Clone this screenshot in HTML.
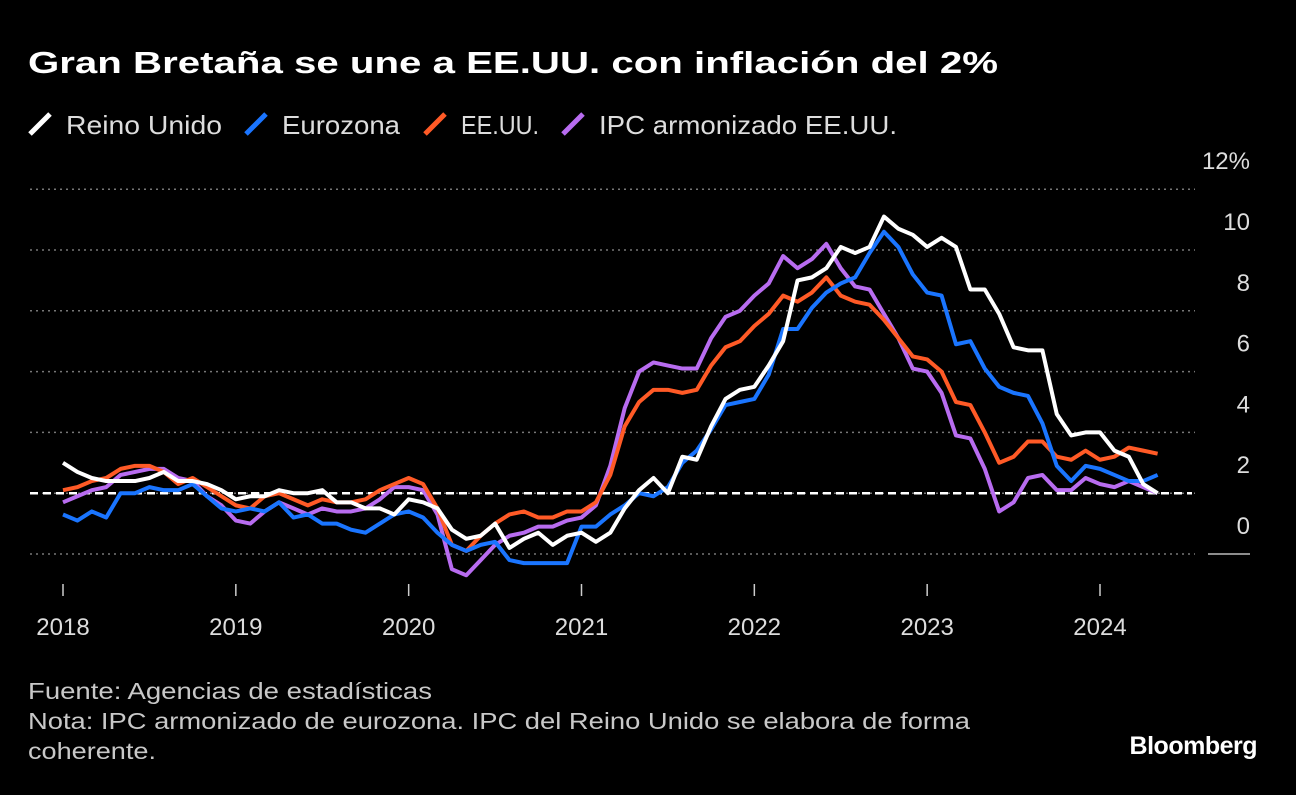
<!DOCTYPE html>
<html><head><meta charset="utf-8"><style>
body{margin:0;background:#000;width:1296px;height:790px;overflow:hidden;font-family:"Liberation Sans",sans-serif;color:#fff}
svg text{font-family:"Liberation Sans",sans-serif}
</style></head><body>
<svg width="1296" height="790">
<text x="28" y="73" font-size="31" font-weight="bold" fill="#fff" textLength="970" lengthAdjust="spacingAndGlyphs">Gran Bretaña se une a EE.UU. con inflación del 2%</text>
<g id="legend"></g>
<g id="grid"></g>
<g id="lines"></g>
<g id="xaxis"></g>
<text x="28" y="699" font-size="23" fill="#c8c8c8" textLength="404" lengthAdjust="spacingAndGlyphs">Fuente: Agencias de estadísticas</text>
<text x="28" y="729" font-size="23" fill="#c8c8c8" textLength="942" lengthAdjust="spacingAndGlyphs">Nota: IPC armonizado de eurozona. IPC del Reino Unido se elabora de forma</text>
<text x="28" y="759" font-size="23" fill="#c8c8c8" textLength="128" lengthAdjust="spacingAndGlyphs">coherente.</text>
<text x="1257" y="754" font-size="25" font-weight="bold" fill="#fff" text-anchor="end" letter-spacing="-0.5">Bloomberg</text>
</svg>
<script>
const years=["2018","2019","2020","2021","2022","2023","2024"];
const yTicks=[0,2,4,6,8,10,12];
const seriesNames=["Reino Unido","Eurozona","EE.UU.","IPC armonizado EE.UU."];
const uk=[3.0,2.7,2.5,2.4,2.4,2.4,2.5,2.7,2.4,2.4,2.3,2.1,1.8,1.9,1.9,2.1,2.0,2.0,2.1,1.7,1.7,1.5,1.5,1.3,1.8,1.7,1.5,0.8,0.5,0.6,1.0,0.2,0.5,0.7,0.3,0.6,0.7,0.4,0.7,1.5,2.1,2.5,2.0,3.2,3.1,4.2,5.1,5.4,5.5,6.2,7.0,9.0,9.1,9.4,10.1,9.9,10.1,11.1,10.7,10.5,10.1,10.4,10.1,8.7,8.7,7.9,6.8,6.7,6.7,4.6,3.9,4.0,4.0,3.4,3.2,2.3,2.0];
const ez=[1.3,1.1,1.4,1.2,2.0,2.0,2.2,2.1,2.1,2.3,1.9,1.5,1.4,1.5,1.4,1.7,1.2,1.3,1.0,1.0,0.8,0.7,1.0,1.3,1.4,1.2,0.7,0.3,0.1,0.3,0.4,-0.2,-0.3,-0.3,-0.3,-0.3,0.9,0.9,1.3,1.6,2.0,1.9,2.2,3.0,3.4,4.1,4.9,5.0,5.1,5.9,7.4,7.4,8.1,8.6,8.9,9.1,9.9,10.6,10.1,9.2,8.6,8.5,6.9,7.0,6.1,5.5,5.3,5.2,4.3,2.9,2.4,2.9,2.8,2.6,2.4,2.4,2.6];
const us=[2.1,2.2,2.4,2.5,2.8,2.9,2.9,2.7,2.3,2.5,2.2,1.9,1.6,1.5,1.9,2.0,1.8,1.6,1.8,1.7,1.7,1.8,2.1,2.3,2.5,2.3,1.5,0.3,0.1,0.6,1.0,1.3,1.4,1.2,1.2,1.4,1.4,1.7,2.6,4.2,5.0,5.4,5.4,5.3,5.4,6.2,6.8,7.0,7.5,7.9,8.5,8.3,8.6,9.1,8.5,8.3,8.2,7.7,7.1,6.5,6.4,6.0,5.0,4.9,4.0,3.0,3.2,3.7,3.7,3.2,3.1,3.4,3.1,3.2,3.5,3.4,3.3];
const ush=[1.7,1.9,2.1,2.2,2.6,2.7,2.8,2.8,2.5,2.4,1.9,1.6,1.1,1.0,1.4,1.7,1.5,1.3,1.5,1.4,1.4,1.5,1.8,2.2,2.2,2.1,1.3,-0.5,-0.7,-0.2,0.3,0.6,0.7,0.9,0.9,1.1,1.2,1.6,2.9,4.8,6.0,6.3,6.2,6.1,6.1,7.1,7.8,8.0,8.5,8.9,9.8,9.4,9.7,10.2,9.4,8.8,8.7,7.9,7.1,6.1,6.0,5.3,3.9,3.8,2.8,1.4,1.7,2.5,2.6,2.1,2.1,2.5,2.3,2.2,2.4,2.2,2.0];
const colors=["#ffffff","#1a75ff","#ff5a26","#b86cf0"];
const NS="http://www.w3.org/2000/svg";
const X=i=>63+i*(1100-63)/72;
const Y=v=>554-v*30.4;
function mk(t,a,p){const e=document.createElementNS(NS,t);for(const k in a)e.setAttribute(k,a[k]);p.appendChild(e);return e;}
const grid=document.getElementById('grid');
yTicks.forEach(v=>{
 if(v===0){const l=mk('line',{x1:1208,x2:1250,y1:Y(0),y2:Y(0),stroke:'#bbb','stroke-width':1.5},grid);
  
  }
 const g=mk('line',{x1:30,x2:1195,y1:Y(v),y2:Y(v),stroke:'#777','stroke-width':1.5,'stroke-dasharray':'2,4'},grid);
 
 
 const t=mk('text',{x:1250,y:Y(v)-20,'font-size':24,fill:'#ddd','text-anchor':'end'},grid);
 t.textContent=v===12?'12%':String(v);
 
 
});
const ref=mk('line',{x1:30,x2:1192,y1:Y(2),y2:Y(2),stroke:'#fff','stroke-width':2.5,'stroke-dasharray':'8,5'},grid);


const xa=document.getElementById('xaxis');
years.forEach((y,i)=>{
 const x=X(i*12);
 const tk=mk('line',{x1:x,x2:x,y1:584,y2:596,stroke:'#ccc','stroke-width':1.5},xa);
 
 
 const t=mk('text',{x:x,y:635,'font-size':24,fill:'#ddd','text-anchor':'middle'},xa);
 t.textContent=y;
 
 
});
const lines=document.getElementById('lines');
[ush,us,ez,uk].forEach((d,k)=>{
 const ci=[3,2,1,0][k];
 const p=mk('polyline',{points:d.map((v,i)=>X(i)+','+Y(v)).join(' '),fill:'none',stroke:colors[ci],'stroke-width':4,'stroke-linejoin':'round'},lines);
 
 
});
const lg=document.getElementById('legend');
const lx=[30,246,425,563];
const lw=[156,118,78,298];
seriesNames.forEach((n,i)=>{
 const l=mk('line',{x1:lx[i],y1:134,x2:lx[i]+20,y2:114,stroke:colors[i],'stroke-width':5},lg);
 
 
 const t=mk('text',{x:lx[i]+36,y:134,'font-size':26,fill:'#ddd',textLength:lw[i],lengthAdjust:'spacingAndGlyphs'},lg);
 t.textContent=n;
 
 
});
</script>
</body></html>
